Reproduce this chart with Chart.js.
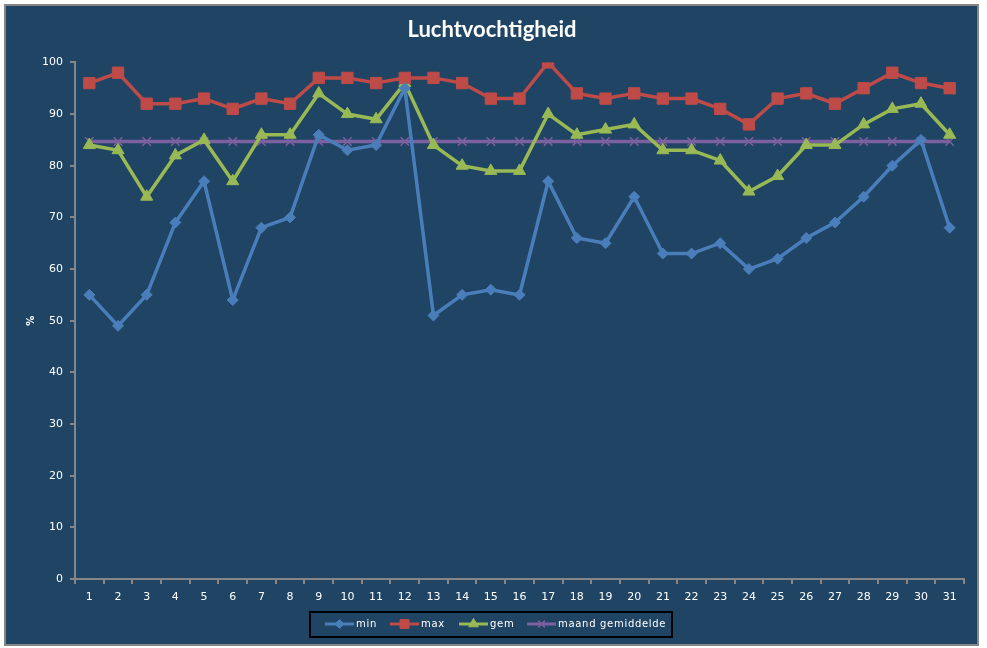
<!DOCTYPE html>
<html>
<head>
<meta charset="utf-8">
<script src="https://cdn.jsdelivr.net/npm/chart.js@4.4.1/dist/chart.umd.min.js"></script>
<style>
html,body{margin:0;padding:0;background:#ffffff;}
#wrap{position:relative;width:987px;height:648px;}
canvas{display:block;}
</style>
</head>
<body>
<div id="wrap"><canvas id="c" width="987" height="648"></canvas></div>
<script>
const days = ["1","2","3","4","5","6","7","8","9","10","11","12","13","14","15","16","17","18","19","20","21","22","23","24","25","26","27","28","29","30","31"];
const minVals = [55,49,55,69,77,54,68,70,86,83,84,95,51,55,56,55,77,66,65,74,63,63,65,60,62,66,69,74,80,85,68];
const maxVals = [96,98,92,92,93,91,93,92,97,97,96,97,97,96,93,93,100,94,93,94,93,93,91,88,93,94,92,95,98,96,95];
const gemVals = [84,83,74,82,85,77,86,86,94,90,89,96,84,80,79,79,90,86,87,88,83,83,81,75,78,84,84,88,91,92,86];
const maandGem = 84.7;
const maandVals = days.map(() => maandGem);
const yTicks = [0,10,20,30,40,50,60,70,80,90,100];

const BG = '#1f4464';
const AXIS = '#868686';

const bgPlugin = {
  id: 'bg',
  beforeDraw(chart) {
    const ctx = chart.ctx;
    ctx.save();
    ctx.fillStyle = '#ffffff';
    ctx.fillRect(0, 0, chart.width, chart.height);
    ctx.fillStyle = BG;
    ctx.fillRect(5, 5, 973, 640);
    ctx.strokeStyle = AXIS;
    ctx.lineWidth = 2;
    ctx.strokeRect(5, 5, 973, 640);
    ctx.restore();
  }
};

const legendPlugin = {
  id: 'customLegend',
  afterDraw(chart) {
    const ctx = chart.ctx;
    ctx.save();
    ctx.strokeStyle = '#000000';
    ctx.lineWidth = 2;
    ctx.strokeRect(310, 612, 362, 25);
    const xs = [325, 390, 459, 527];
    const cy = 624;
    ctx.font = '10px "DejaVu Sans"';
    try { ctx.letterSpacing = '0.7px'; } catch (e) {}
    ctx.textBaseline = 'middle';
    chart.data.datasets.forEach((ds, i) => {
      const x0 = xs[i];
      ctx.strokeStyle = ds.borderColor;
      ctx.lineWidth = 3;
      ctx.beginPath();
      ctx.moveTo(x0, cy);
      ctx.lineTo(x0 + 29, cy);
      ctx.stroke();
      ctx.fillStyle = ds.pointBackgroundColor;
      ctx.strokeStyle = ds.pointBorderColor;
      ctx.lineWidth = ds.pointBorderWidth;
      Chart.helpers.drawPoint(ctx, {
        pointStyle: ds.pointStyle,
        radius: ds.pointRadius * 0.8,
        borderWidth: ds.pointBorderWidth
      }, x0 + 14.5, cy);
      ctx.fillStyle = '#ffffff';
      ctx.fillText(ds.label, x0 + 31, cy);
    });
    ctx.restore();
  }
};

function ds(label, data, color, style, radius, bw) {
  return {
    label, data,
    borderColor: color,
    backgroundColor: color,
    pointBackgroundColor: color,
    pointBorderColor: color,
    borderWidth: 3.5,
    pointStyle: style,
    pointRadius: radius,
    pointHoverRadius: radius,
    pointBorderWidth: bw,
    tension: 0,
    fill: false
  };
}

new Chart(document.getElementById('c'), {
  type: 'line',
  data: {
    labels: days,
    datasets: [
      ds('min', minVals, '#4a7ebb', 'rectRot', 5.5, 1),
      ds('max', maxVals, '#be4b48', 'rect', 8, 1),
      ds('gem', gemVals, '#98b954', 'triangle', 7, 1),
      ds('maand gemiddelde', maandVals, '#7d60a0', 'crossRot', 6, 1.5)
    ]
  },
  options: {
    responsive: false,
    animation: false,
    devicePixelRatio: 1,
    layout: { padding: { left: 5, right: 8, top: 0, bottom: 0 } },
    plugins: {
      legend: { display: false },
      tooltip: { enabled: false },
      title: {
        display: true,
        text: 'Luchtvochtigheid',
        color: '#ffffff',
        font: { family: 'Lato', size: 22, weight: 'bold' },
        padding: { top: 17, bottom: 19 }
      }
    },
    scales: {
      x: {
        type: 'category',
        offset: true,
        grid: { display: true, drawOnChartArea: false, drawTicks: true, tickLength: 5, offset: true, color: AXIS, lineWidth: 2 },
        border: { display: true, color: AXIS, width: 2 },
        ticks: { color: '#ffffff', font: { family: 'DejaVu Sans', size: 11 }, padding: 7, maxRotation: 0, autoSkip: false },
        afterFit(scale) { scale.height = 69; }
      },
      y: {
        min: 0, max: 100,
        afterBuildTicks(scale) { scale.ticks = yTicks.map(v => ({ value: v })); },
        grid: { display: true, drawOnChartArea: false, drawTicks: true, tickLength: 5, color: AXIS, lineWidth: 2 },
        border: { display: true, color: AXIS, width: 2 },
        ticks: { color: '#ffffff', font: { family: 'DejaVu Sans', size: 11 }, padding: 7 },
        title: { display: true, text: '%', color: '#ffffff', font: { family: 'DejaVu Sans', size: 10, weight: 'bold' }, padding: { top: 20, bottom: 0 } },
        afterFit(scale) { scale.width = 70; }
      },
      ySpacer: {
        position: 'right',
        min: 0, max: 100,
        grid: { display: false },
        border: { display: false },
        ticks: { display: false },
        afterFit(scale) { scale.width = 15; }
      }
    }
  },
  plugins: [bgPlugin, legendPlugin]
});
</script>
</body>
</html>
